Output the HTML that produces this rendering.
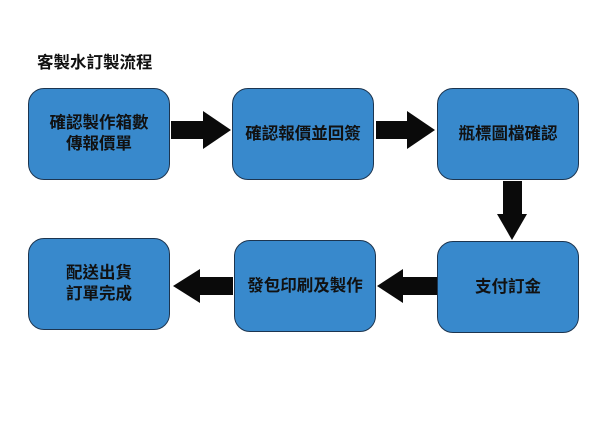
<!DOCTYPE html>
<html><head><meta charset="utf-8"><style>
body{margin:0;width:600px;height:426px;background:#fff;position:relative;overflow:hidden;font-family:"Liberation Sans","Noto Sans CJK TC",sans-serif}
.b{position:absolute;width:140px;height:90px;background:#3889cc;border:1.3px solid #1c3550;border-radius:16px;display:flex;align-items:center;justify-content:center;text-align:center;font-weight:bold;font-size:16.5px;line-height:21px;color:#111}
.t{position:absolute;left:37px;top:49px;font-size:16.5px;font-weight:bold;color:#111}
svg{position:absolute;left:0;top:0}
</style></head><body>
<div class="t">客製水訂製流程</div>
<div class="b" style="left:28px;top:88px">確認製作箱數<br>傳報價單</div>
<div class="b" style="left:232px;top:88px">確認報價並回簽</div>
<div class="b" style="left:437px;top:88px">瓶標圖檔確認</div>
<div class="b" style="left:437px;top:241px">支付訂金</div>
<div class="b" style="left:234px;top:240px">發包印刷及製作</div>
<div class="b" style="left:28px;top:238px">配送出貨<br>訂單完成</div>
<svg width="600" height="426">
<polygon fill="#0a0a0a" points="171,121 203,121 203,111 231,130 203,149 203,139 171,139"/>
<polygon fill="#0a0a0a" points="376,121 407,121 407,111 435,130 407,149 407,139 376,139"/>
<polygon fill="#0a0a0a" points="503,181 522,181 522,214 527,214 512,240 497,214 503,214"/>
<polygon fill="#0a0a0a" points="437,277 403,277 403,269 377,286 403,303 403,295 437,295"/>
<polygon fill="#0a0a0a" points="233,277 200,277 200,269 173,286 200,303 200,295 233,295"/>
</svg>
</body></html>
